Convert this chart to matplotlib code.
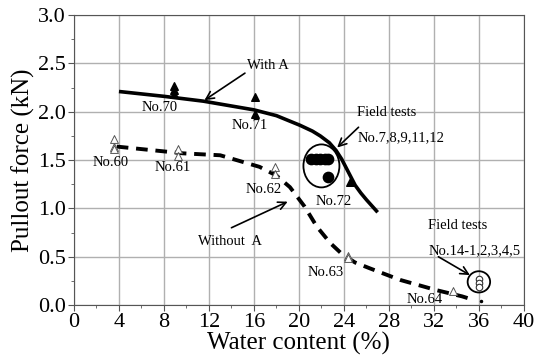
import numpy as np
import matplotlib.pyplot as plt
from matplotlib.patches import Ellipse

plt.rcParams['font.family'] = ['Liberation Serif', 'DejaVu Serif']

# fitted trend lines
with_a_x = [4.0, 8.0, 11.5, 16.0, 18.0, 20.1, 21.2, 21.9, 22.7, 23.3, 23.8, 24.2, 24.6,
            25.0, 25.5, 26.0, 27.0]
with_a_y = [2.21, 2.16, 2.11, 2.02, 1.96, 1.86, 1.80, 1.75, 1.68, 1.60, 1.51, 1.42, 1.33,
            1.24, 1.16, 1.09, 0.96]
without_a_x = [3.8, 9.7, 13.0, 16.5, 18.0, 19.2, 20.5, 21.6, 22.8, 23.9, 25.0, 26.3,
               29.0, 32.2, 34.5, 35.6]
without_a_y = [1.64, 1.57, 1.55, 1.43, 1.34, 1.22, 1.02, 0.81, 0.64, 0.52, 0.44, 0.38,
               0.26, 0.155, 0.09, 0.05]

# lab tests with A (filled triangles)
tri_a_x = [8.9, 8.9, 8.9, 16.1, 16.1, 24.5]
tri_a_y = [2.27, 2.23, 2.18, 2.15, 1.98, 1.27]
# lab tests without A (open triangles)
tri_b_x = [3.6, 3.6, 3.6, 9.25, 9.25, 17.9, 17.9, 24.4, 24.4, 33.7]
tri_b_y = [1.72, 1.64, 1.61, 1.61, 1.54, 1.43, 1.36, 0.51, 0.49, 0.145]

# field tests
field_a_x = [21.1, 21.5, 21.9, 22.3, 22.6, 22.6]
field_a_y = [1.51, 1.51, 1.51, 1.51, 1.51, 1.32]
field_b_x = [36.0, 36.0, 36.0]
field_b_y = [0.27, 0.23, 0.19]

labels = ['No.60', 'No.61', 'No.70', 'No.71', 'No.62', 'No.72', 'No.63', 'No.64']
label_x = [3.3, 8.8, 7.6, 15.6, 16.9, 23.1, 22.4, 31.2]
label_y = [1.48, 1.42, 2.04, 1.86, 1.20, 1.07, 0.34, 0.06]

fig = plt.figure(figsize=(5.44, 3.61), dpi=100)
ax = fig.add_axes([0.136, 0.155, 0.827, 0.803])

ax.plot(with_a_x, with_a_y, color='black', lw=2.6, solid_capstyle='butt')
ax.plot(without_a_x, without_a_y, color='black', lw=2.8, ls=(0, (3, 2)))
ax.plot(36.2, 0.04, 'k.', ms=3)

ax.scatter(tri_a_x, tri_a_y, marker='^', s=30, color='black', zorder=3)
ax.scatter(tri_b_x, tri_b_y, marker='^', s=32, facecolor='white',
           edgecolor='#555555', lw=0.7, zorder=3)
ax.scatter(field_a_x, field_a_y, marker='o', s=55, color='black', zorder=3)
ax.scatter(field_b_x, field_b_y, marker='o', s=22, facecolor='white',
           edgecolor='#333333', lw=0.8, zorder=3)

ax.add_patch(Ellipse((22.0, 1.44), 3.2, 0.445, fill=False, lw=1.3, ec='black', zorder=4))
ax.add_patch(Ellipse((36.0, 0.24), 2.0, 0.22, fill=False, lw=1.3, ec='black', zorder=4))

for t, x, y in zip(labels, label_x, label_y):
    ax.text(x, y, t, fontsize=10.5, ha='center', va='center')

arrow = dict(arrowstyle='->', color='black', lw=1.2, mutation_scale=14,
             shrinkA=0, shrinkB=0)
ax.text(15.4, 2.48, 'With A', fontsize=10.5, va='center')
ax.annotate('', xy=(11.6, 2.12), xytext=(15.2, 2.40), arrowprops=arrow)
ax.annotate('', xy=(23.4, 1.63), xytext=(25.3, 1.84), arrowprops=arrow)
ax.text(25.2, 1.99, 'Field tests', fontsize=10.5, va='center')
ax.text(25.2, 1.73, 'No.7,8,9,11,12', fontsize=10.5, va='center')
ax.annotate('', xy=(19.0, 1.07), xytext=(14.0, 0.80), arrowprops=arrow)
ax.text(11.0, 0.66, 'Without  A', fontsize=10.5, va='center')
ax.text(31.5, 0.82, 'Field tests', fontsize=10.5, va='center')
ax.text(31.5, 0.56, 'No.14-1,2,3,4,5', fontsize=10.5, va='center')
ax.annotate('', xy=(35.2, 0.31), xytext=(32.4, 0.50), arrowprops=arrow)

ax.set_xlim(0, 40)
ax.set_ylim(0, 3.0)
ax.set_xticks(np.arange(0, 41, 4))
ax.set_xticks(np.arange(0, 41, 2), minor=True)
ax.set_yticks(np.arange(0, 3.01, 0.5))
ax.set_yticks(np.arange(0, 3.01, 0.25), minor=True)
ax.yaxis.set_major_formatter(plt.FormatStrFormatter('%.1f'))
ax.grid(True, which='major', color='#b0b0b0', lw=1.0)
ax.set_axisbelow(True)
for sp in ax.spines.values():
    sp.set_color('#555555')
ax.tick_params(which='major', length=4, labelsize=16, color='#555555', pad=2)
ax.tick_params(which='minor', length=2, color='#555555')
ax.set_xlabel('Water content (%)', fontsize=18, labelpad=0)
ax.set_ylabel('Pullout force (kN)', fontsize=18, labelpad=2)

fig.savefig('out.png', dpi=100)
